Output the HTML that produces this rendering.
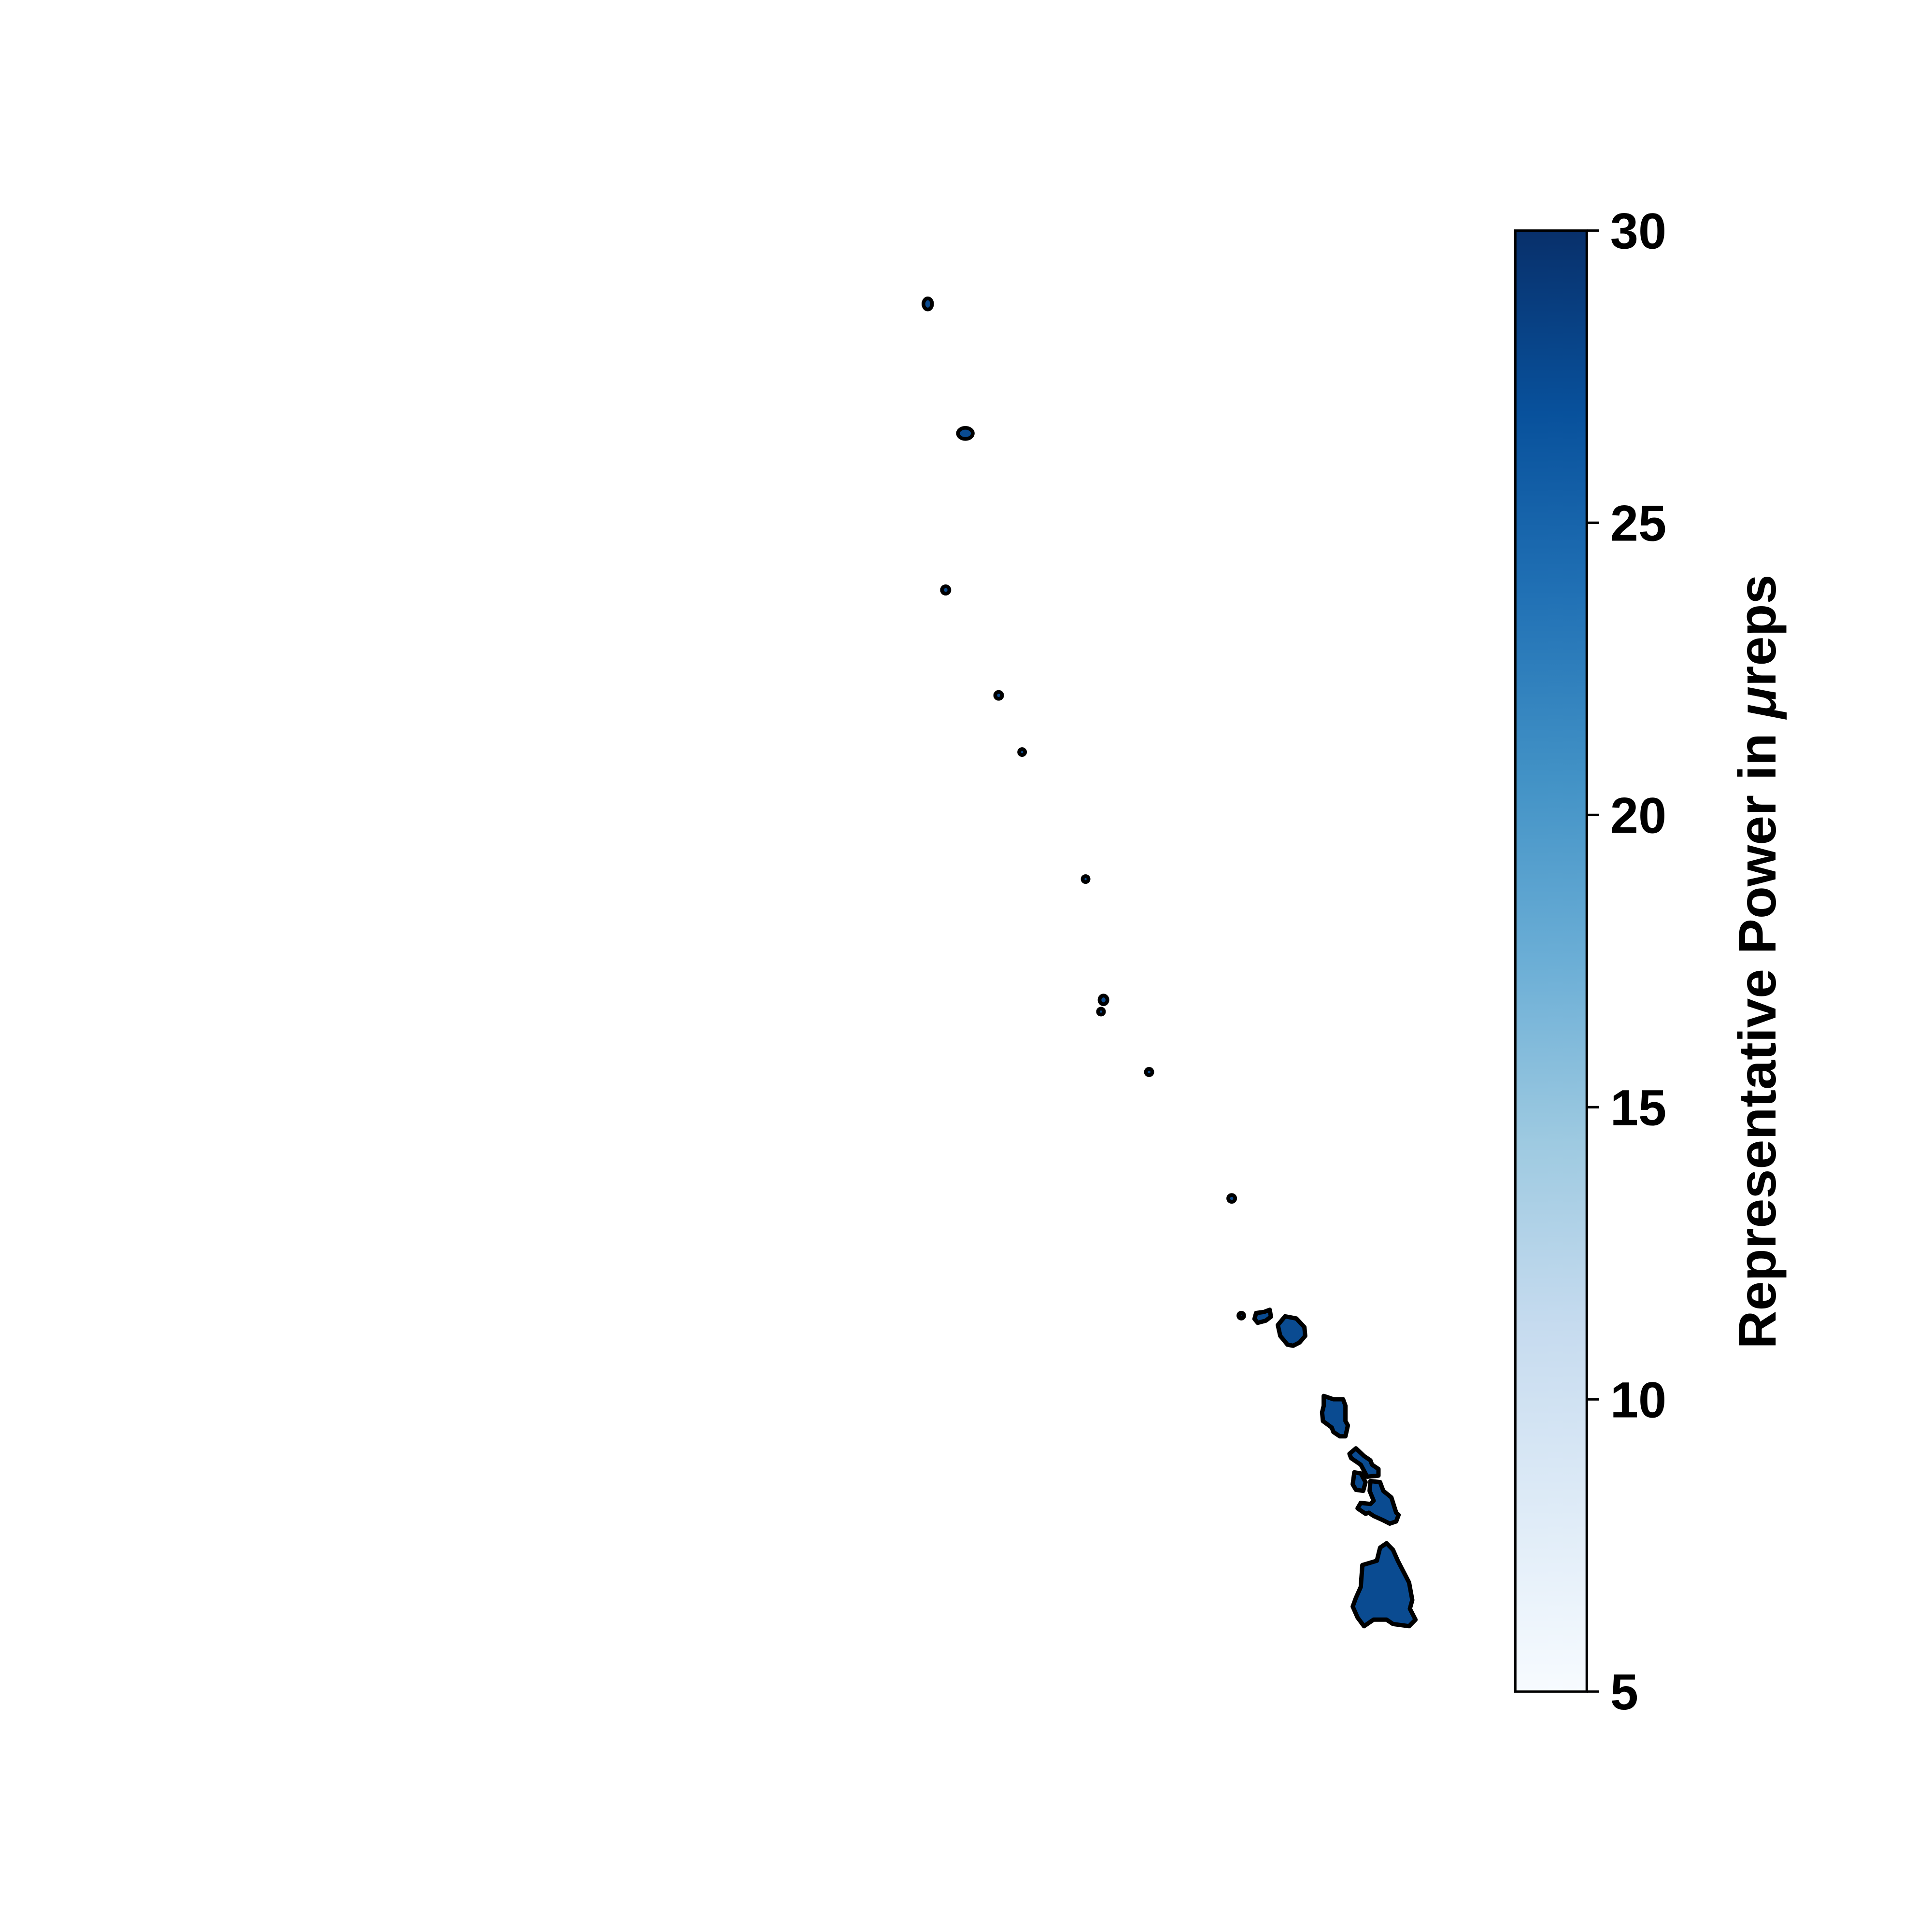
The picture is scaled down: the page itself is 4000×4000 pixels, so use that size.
<!DOCTYPE html>
<html><head><meta charset="utf-8"><style>html,body{margin:0;padding:0;background:#fff}svg{display:block}</style></head>
<body>
<svg id="chart" width="4000" height="4000" viewBox="0 0 1567 1567" xmlns="http://www.w3.org/2000/svg" font-family="'Liberation Sans', Arial, sans-serif" font-weight="bold">
<defs>
<linearGradient id="blues" x1="0" y1="1" x2="0" y2="0">
<stop offset="0" stop-color="#f7fbff"/><stop offset="0.125" stop-color="#deebf7"/><stop offset="0.25" stop-color="#c6dbef"/><stop offset="0.375" stop-color="#9ecae1"/><stop offset="0.5" stop-color="#6baed6"/><stop offset="0.625" stop-color="#4292c6"/><stop offset="0.75" stop-color="#2171b5"/><stop offset="0.875" stop-color="#08519c"/><stop offset="1" stop-color="#08306b"/>
</linearGradient>
</defs>
<g id="map" fill="#0a4b91" stroke="#000" stroke-linejoin="round">
<g transform="translate(999.2,1057) scale(0.1306,0.177)">
<g stroke-width="9">
<path vector-effect="non-scaling-stroke" d="M960,1100 L1000,1130 L1030,1180 L1100,1280 L1120,1360 L1105,1400 L1140,1450 L1100,1480 L1000,1470 L960,1450 L880,1450 L820,1480 L780,1440 L750,1390 L770,1350 L800,1300 L810,1200 L900,1180 L920,1120 Z"/>
<path vector-effect="non-scaling-stroke" d="M770,665 L820,700 L860,720 L870,740 L910,760 L910,790 L840,795 L800,740 L740,710 L730,690 Z"/>
<path vector-effect="non-scaling-stroke" d="M860,815 L920,820 L940,860 L990,890 L1020,960 L1035,970 L1020,1000 L980,1010 L940,995 L880,975 L850,960 L830,965 L780,940 L800,915 L860,920 L880,905 L855,860 Z"/>
<path vector-effect="non-scaling-stroke" d="M760,775 L800,780 L830,820 L815,860 L770,855 L750,830 Z"/>
<path vector-effect="non-scaling-stroke" d="M570,425 L630,440 L690,440 L705,470 L705,540 L720,560 L705,610 L670,610 L630,590 L620,570 L565,540 L560,500 L570,470 Z"/>
<path vector-effect="non-scaling-stroke" d="M330,60 L400,70 L450,110 L455,150 L420,180 L380,195 L345,190 L300,150 L285,100 Z"/>
<path vector-effect="non-scaling-stroke" d="M150,45 L200,40 L235,30 L242,62 L210,80 L160,90 L140,72 Z"/>
<ellipse vector-effect="non-scaling-stroke" cx="58" cy="57" rx="16" ry="12"/>
</g>
</g>
<g stroke-width="3">
<ellipse cx="752.5" cy="246.5" rx="3.5" ry="4.5"/>
<ellipse cx="783" cy="351.5" rx="6" ry="4.5"/>
<circle cx="767" cy="478.5" r="3"/>
<circle cx="810" cy="564" r="2.8"/>
<circle cx="829" cy="610" r="2.4"/>
<circle cx="880.5" cy="713" r="2.4"/>
<ellipse cx="895" cy="811" rx="3.2" ry="3.5"/>
<circle cx="893" cy="820.5" r="2.4"/>
<circle cx="932" cy="869.5" r="2.6"/>
<circle cx="999" cy="972" r="2.8"/>
</g>
</g>
<g id="colorbar">
<rect x="1229" y="187" width="58" height="1185" fill="url(#blues)" stroke="#000" stroke-width="2"/>
</g>
<g id="ticks"></g>
<text transform="translate(1440,780) rotate(-90)" text-anchor="middle" font-size="43">Representative Power in <tspan font-style="italic">μ</tspan>reps</text>
<script>
var tickValues = [5, 10, 15, 20, 25, 30];
var tickLabels = ["5", "10", "15", "20", "25", "30"];
var vmin = 5, vmax = 30;
var cbTop = 187, cbBottom = 1372, cbRight = 1287;
function yScale(v){ return cbBottom - (v - vmin) / (vmax - vmin) * (cbBottom - cbTop); }
var ns = "http://www.w3.org/2000/svg";
var g = document.getElementById('ticks');
tickValues.forEach(function(v, i){
  var y = yScale(v);
  var l = document.createElementNS(ns, 'line');
  
  
  l.setAttribute('x1', cbRight); l.setAttribute('x2', cbRight + 10);
  l.setAttribute('y1', y); l.setAttribute('y2', y);
  l.setAttribute('stroke', '#000'); l.setAttribute('stroke-width', '2');
  g.appendChild(l);
  var t = document.createElementNS(ns, 'text');
  
  
  t.setAttribute('x', cbRight + 19); t.setAttribute('y', y + 14.5);
  t.setAttribute('font-size', '41');
  t.textContent = tickLabels[i];
  g.appendChild(t);
});
</script>
</svg>
</body></html>
